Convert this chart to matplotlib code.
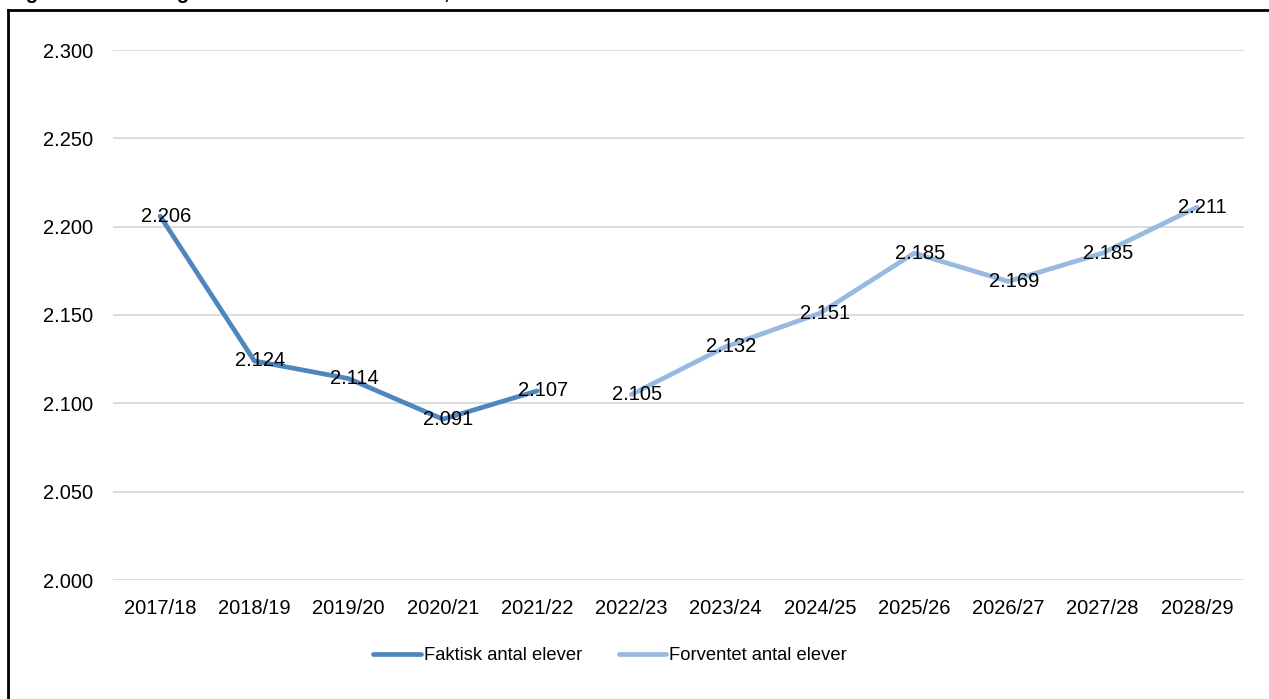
import matplotlib.pyplot as plt
from matplotlib.lines import Line2D
from matplotlib.ticker import FuncFormatter

plt.rcParams['font.family'] = ['Liberation Sans', 'DejaVu Sans']

# Data
years = ["2017/18", "2018/19", "2019/20", "2020/21", "2021/22", "2022/23",
         "2023/24", "2024/25", "2025/26", "2026/27", "2027/28", "2028/29"]
actual = [2206, 2124, 2114, 2091, 2107]
forecast = [2105, 2132, 2151, 2185, 2169, 2185, 2211]
y_ticks = [2000, 2050, 2100, 2150, 2200, 2250, 2300]

DARK = "#4F86BD"
LIGHT = "#98B9E0"
GRID = "#D9D9D9"
FS = 14.5


def dk(v):
    return f"{v:,}".replace(",", ".")


fig = plt.figure(figsize=(12.69, 6.99), dpi=100)
ax = fig.add_axes([113 / 1269, 1 - 580 / 699, (1244 - 113) / 1269, 530 / 699])

x_act = list(range(len(actual)))
x_fc = list(range(len(actual), len(actual) + len(forecast)))
ax.plot(x_act, actual, color=DARK, lw=3.4, solid_capstyle='round', zorder=3)
ax.plot(x_fc, forecast, color=LIGHT, lw=3.4, solid_capstyle='round', zorder=3)

for xs, vals in ((x_act, actual), (x_fc, forecast)):
    for x, v in zip(xs, vals):
        ax.annotate(dk(v), (x, v), xytext=(4, 0), textcoords='offset points',
                    ha='center', va='center', fontsize=FS, color='black', zorder=4)

ax.set_xlim(-0.5, len(years) - 0.5)
ax.set_ylim(2000, 2300)
ax.set_xticks(range(len(years)))
ax.set_xticklabels(years, fontsize=FS)
ax.set_yticks(y_ticks)
ax.yaxis.set_major_formatter(FuncFormatter(lambda v, p: dk(int(v))))
ax.tick_params(axis='y', length=0, pad=14, labelsize=FS)
ax.tick_params(axis='x', length=0, pad=14)
ax.grid(axis='y', color=GRID, lw=1.3)
ax.set_axisbelow(True)
for s in ax.spines.values():
    s.set_visible(False)

handles = [Line2D([], [], color=DARK, lw=3.4, solid_capstyle='round'),
           Line2D([], [], color=LIGHT, lw=3.4, solid_capstyle='round')]
fig.legend(handles, ["Faktisk antal elever", "Forventet antal elever"],
           loc='center', bbox_to_anchor=(610 / 1269, 1 - 656 / 699), ncol=2,
           frameon=False, fontsize=13.2, handlelength=2.6, handletextpad=0.15,
           columnspacing=2.0)

# frame around the chart area
fig.add_artist(Line2D([8 / 1269, 8 / 1269], [0, 1 - 10 / 699], transform=fig.transFigure,
                      color='black', lw=2))
fig.add_artist(Line2D([8 / 1269, 1], [1 - 10 / 699, 1 - 10 / 699], transform=fig.transFigure,
                      color='black', lw=2))

# caption, cut off by the top edge as in the source
fig.text(8 / 1269, 1 + 1 / 699, "Figur 12: Udvikling i antal elever i folkeskolen, 2017/18-2028/29",
         fontsize=FS, fontweight='bold', ha='left', va='baseline')

fig.savefig("out.png", dpi=100)
